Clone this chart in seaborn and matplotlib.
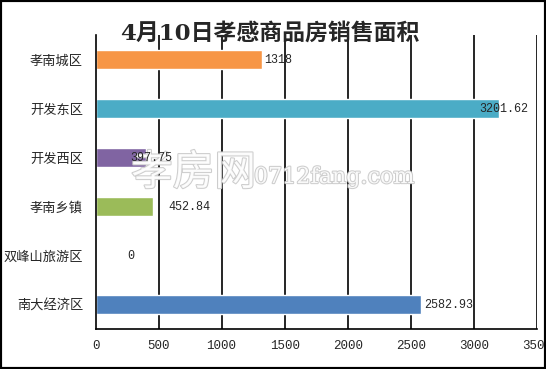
import matplotlib
matplotlib.use('Agg')
import matplotlib.pyplot as plt
import matplotlib.patheffects as pe
from matplotlib.patches import Rectangle
import seaborn as sns
import pandas as pd

regions = ['孝南城区', '开发东区', '开发西区', '孝南乡镇', '双峰山旅游区', '南大经济区']
areas = [1318, 3201.62, 397.75, 452.84, 0, 2582.93]
labels = ['1318', '3201.62', '397.75', '452.84', '0', '2582.93']
colors = ['#F79646', '#4BACC6', '#8064A2', '#9BBB59', '#4F81BD', '#4F81BD']
label_pads = [1, -15, -12, 10, 22, 1]
x_ticks = [0, 500, 1000, 1500, 2000, 2500, 3000, 3500]

sns.set_style('white')
plt.rcParams['font.family'] = ['Noto Sans CJK SC', 'DejaVu Sans']

df = pd.DataFrame({'region': regions, 'area': areas})

fig = plt.figure(figsize=(5.46, 3.69), dpi=100)
ax = fig.add_axes([0.175, 0.108, 0.808, 0.797])
ax.patch.set_alpha(0)

sns.barplot(data=df, x='area', y='region', hue='region', palette=colors,
            legend=False, width=0.39, saturation=1, orient='h', ax=ax)

for bar, lab, pad in zip(ax.patches, labels, label_pads):
    ax.annotate(lab, (bar.get_width(), bar.get_y() + bar.get_height() / 2),
                xytext=(pad + 1, 0), textcoords='offset points',
                va='center', ha='left', fontsize=8.5, zorder=8,
                family=['Liberation Mono', 'DejaVu Sans Mono'])

ax.set_xlim(0, 3500)
ax.set_ylim(len(regions) - 0.5, -0.5)
ax.set_xticks(x_ticks)
ax.set_xticklabels([str(t) for t in x_ticks], fontsize=9,
                   family=['Liberation Mono', 'DejaVu Sans Mono'])
for t in x_ticks[1:]:
    ax.axvline(t, color='black', lw=1.2, zorder=0)

ax.set_yticks(range(len(regions)))
ax.set_yticklabels(regions, fontsize=9.5)
ax.set_yticks([i - 0.5 for i in range(len(regions) + 1)], minor=True)
ax.tick_params(axis='y', which='major', length=0, pad=9)
ax.tick_params(axis='y', which='minor', length=5, width=1.2, color='black', direction='out')
ax.tick_params(axis='x', length=5, width=1.2, color='black', direction='out', pad=3)
ax.set_xlabel('')
ax.set_ylabel('')

for s in ['top', 'right']:
    ax.spines[s].set_visible(False)
for s in ['left', 'bottom']:
    ax.spines[s].set_color('black')
    ax.spines[s].set_linewidth(1.2)

fig.text(0.495, 0.91, '4月10日孝感商品房销售面积', ha='center', va='center',
         fontsize=16.5, fontweight='bold', family=['DejaVu Serif', 'Noto Sans CJK SC'],
         zorder=6)

# watermark, drawn inside the axes so the value labels stay on top
halo = [pe.withStroke(linewidth=1.5, foreground='#c8c8c8')]
ax.text(0.24, 0.53, '孝房网', fontsize=30, color='white', alpha=0.9,
        ha='left', va='center', path_effects=halo, zorder=5,
        transform=fig.transFigure)
ax.text(0.465, 0.52, '0712fang.com', fontsize=16, color='white', alpha=0.9,
        ha='left', va='center', family='DejaVu Serif', path_effects=halo, zorder=5,
        transform=fig.transFigure)

fig.patches.append(Rectangle((0, 0), 1, 1, transform=fig.transFigure, fill=False,
                             edgecolor='black', lw=3, zorder=10))

fig.savefig('out.png', dpi=100)
